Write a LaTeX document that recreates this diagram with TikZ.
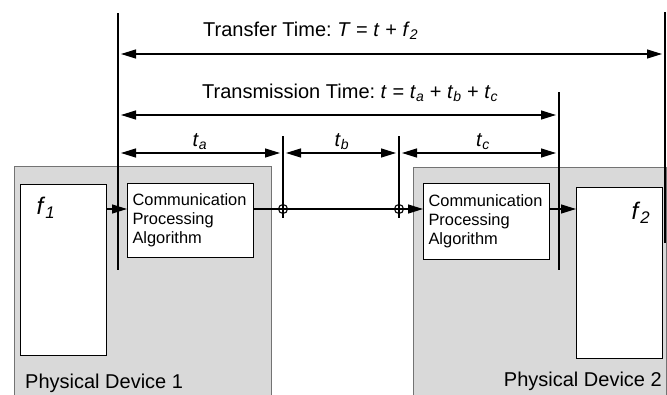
\documentclass[tikz,border=0pt]{standalone}
\usepackage{fontspec}
\setmainfont{Liberation Sans}
\usetikzlibrary{arrows.meta,calc}
\frenchspacing
\newcommand{\vsub}[2]{\textit{#1}\textsubscript{\textit{#2}}}
\newcommand{\cpatext}{Communication\\Processing\\Algorithm}
\tikzset{
  device/.style={draw=black!55, fill=black!15, line width=0.9pt, inner sep=0pt, anchor=north west},
  appbox/.style={draw, fill=white, line width=1.1pt, inner sep=0pt, anchor=north west},
  cpabox/.style={draw, fill=white, line width=1.1pt, anchor=north west, align=left,
    text width=116pt, inner xsep=5pt, inner ysep=0pt, minimum height=74pt,
    font=\fontsize{16.4}{19}\selectfont},
  lab/.style={inner sep=0pt},
  tick/.style={line width=1.3pt},
  dimarrow/.style={line width=1.3pt, {Triangle[length=15pt,width=9pt]}-{Triangle[length=15pt,width=9pt]},
    shorten <=3pt, shorten >=3pt},
  flow/.style={line width=1.3pt, -{Triangle[length=15pt,width=9pt]}},
  junction/.style={circle, draw, line width=1.1pt, inner sep=0pt, minimum size=9pt}
}

\begin{document}
\begin{tikzpicture}[x=1pt, y=-1pt, font=\fontsize{20}{24}\selectfont]
  \useasboundingbox (0,0) rectangle (667,394);
  % the two devices
  \node[device, minimum width=257pt, minimum height=231pt] (devone) at (14,166) {};
  \node[device, minimum width=253pt, minimum height=230pt] (devtwo) at (413,167) {};
  \node[lab, anchor=base west] (devonelab) at (25,388) {Physical Device 1};
  \node[lab, anchor=base east] (devtwolab) at (662,386) {Physical Device 2};
  % application boxes
  \node[appbox, minimum width=86pt, minimum height=171pt] (fone) at (20,184) {};
  \node[appbox, minimum width=86pt, minimum height=171pt] (ftwo) at (576,187) {};
  \node[lab] (fonelab) at (46,208) {\fontsize{24}{26}\selectfont\vsub{f}{1}};
  \node[lab] (ftwolab) at (641,213) {\fontsize{24}{26}\selectfont\vsub{f}{2}};
  % communication boxes
  \node[cpabox] (cpaone) at (127,183) {\cpatext};
  \node[cpabox, minimum height=76pt] (cpatwo) at (423,183) {\cpatext};
  % reference lines
  \coordinate (ltA) at (118,13);  \coordinate (lbA) at (118,270);
  \coordinate (ltB) at (283,136); \coordinate (lbB) at (283,218);
  \coordinate (ltC) at (399,136); \coordinate (lbC) at (399,218);
  \coordinate (ltD) at (559,92);  \coordinate (lbD) at (559,270);
  \coordinate (ltE) at (665,12);  \coordinate (lbE) at (665,243);
  \foreach \l in {A,B,C,D,E}
    \draw[tick] (lt\l) -- (lb\l);
  % signal path
  \node[junction] (jA) at (283,209) {};
  \node[junction] (jB) at (399,209) {};
  \draw[flow] (fone.east |- jA) -- (cpaone.west |- jA);
  \draw[tick] (cpaone.east |- jA) -- (jB.center);
  \draw[flow] (jB.center) -- (cpatwo.west |- jB);
  \draw[flow] (cpatwo.east |- jB) -- (ftwo.west |- jB);
  % time spans
  \draw[dimarrow] (ltA |- 0,54) -- (ltE |- 0,54);
  \draw[dimarrow] (ltA |- 0,115) -- (ltD |- 0,115);
  \draw[dimarrow] (ltA |- 0,153) -- (ltB |- 0,153);
  \draw[dimarrow] (ltB |- 0,153) -- (ltC |- 0,153);
  \draw[dimarrow] (ltC |- 0,153) -- (ltD |- 0,153);
  \node[lab, anchor=base west] (transferlab) at (203,36)
    {Transfer Time: \textit{T} = \textit{t} + \vsub{f}{2}};
  \node[lab, anchor=base west] (transmlab) at (202,98)
    {Transmission Time: \textit{t} = \vsub{t}{a} + \vsub{t}{b} + \vsub{t}{c}};
  \node[lab, anchor=base] (talab) at (200,146) {\vsub{t}{a}};
  \node[lab, anchor=base] (tblab) at (342,146) {\vsub{t}{b}};
  \node[lab, anchor=base] (tclab) at (483,146) {\vsub{t}{c}};
\end{tikzpicture}
\end{document}
